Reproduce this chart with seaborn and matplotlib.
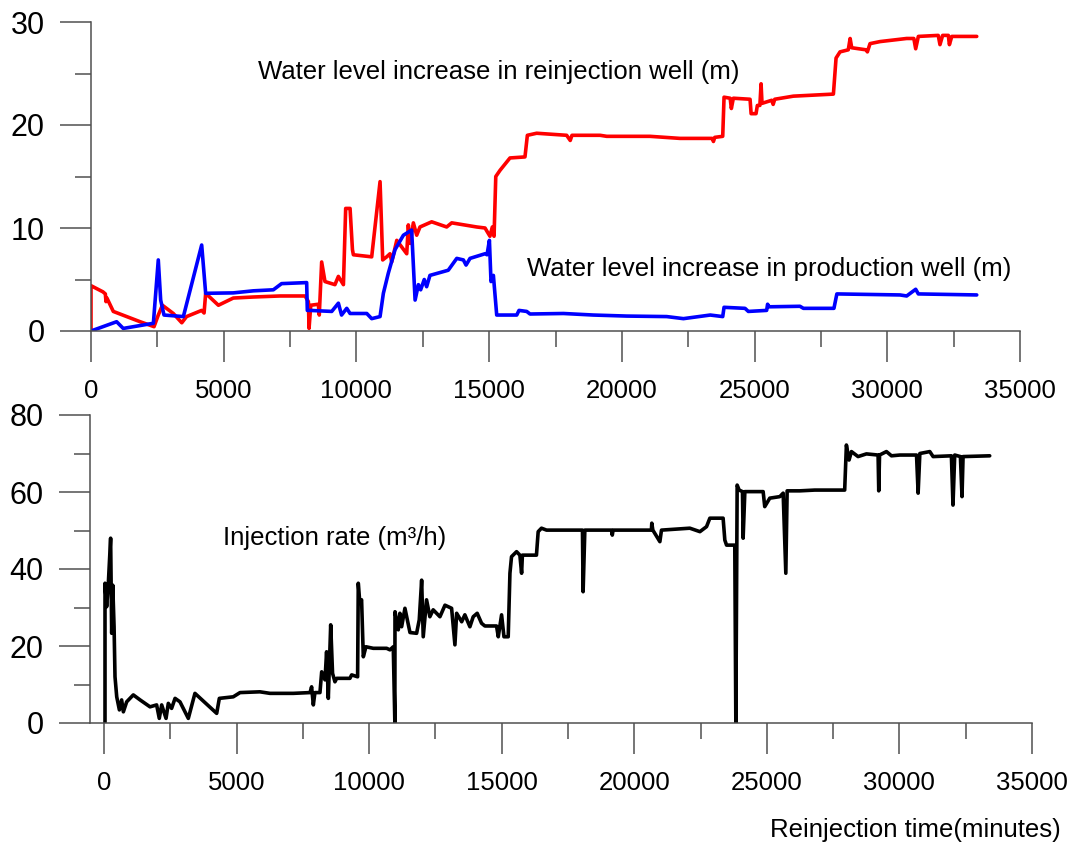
import matplotlib
matplotlib.use("Agg")
import matplotlib.pyplot as plt
from matplotlib.ticker import MultipleLocator
import seaborn as sns
import pandas as pd

# ---------------- data ----------------
reinj_x = [0, 0, 450, 540, 565, 600, 840, 1850, 2375, 2535, 2690, 3100, 3420, 3600, 4170, 4260,
           4320, 4800, 5360, 6115, 7120, 8065, 8190, 8215, 8280, 8565, 8600, 8690, 8815, 9190,
           9320, 9510, 9595, 9760, 9850, 9885, 10575, 10890, 10990, 11140, 11265, 11330, 11520,
           11895, 11955, 12020, 12145, 12270, 12395, 12835, 13400, 13590, 14530, 14845, 15030,
           15120, 15185, 15250, 15410, 15660, 15785, 16350, 16440, 16790, 17920, 18055, 18120,
           19180, 19430, 21060, 22190, 23400, 23450, 23500, 23800, 23850, 24080, 24125, 24200,
           24830, 24870, 25055, 25105, 25200, 25245, 25280, 25645, 25700, 25760, 26460, 27970,
           28070, 28220, 28530, 28600, 28660, 29200, 29250, 29350, 29730, 30730, 31000, 31070,
           31170, 31920, 31985, 32085, 32300, 32340, 32430, 33370]
reinj_y = [0, 4.4, 3.8, 3.6, 2.85, 3.2, 1.9, 0.9, 0.42, 1.55, 2.5, 1.7, 0.8, 1.4, 2.0, 1.75,
           3.66, 2.5, 3.2, 3.3, 3.4, 3.4, 2.85, 0.26, 2.5, 2.6, 1.55, 6.7, 4.8, 4.5,
           5.3, 4.5, 11.9, 11.9, 7.9, 7.4, 7.2, 14.5, 6.9, 7.2, 7.5, 6.7, 8.8,
           7.5, 10.3, 8.5, 10.5, 9.3, 10.1, 10.6, 10.1, 10.5, 10.1, 10.0, 9.2,
           10.1, 9.2, 15.0, 15.6, 16.4, 16.8, 16.9, 19.0, 19.2, 19.0, 18.5, 19.0,
           19.0, 18.9, 18.9, 18.7, 18.7, 18.4, 18.8, 18.9, 22.7, 22.6, 21.6, 22.6,
           22.5, 21.1, 21.1, 21.9, 21.9, 24.0, 22.1, 22.4, 22.0, 22.5, 22.8, 23.0,
           26.5, 27.1, 27.3, 28.4, 27.5, 27.3, 27.1, 27.9, 28.1, 28.4, 28.4, 27.4,
           28.6, 28.7, 27.8, 28.7, 28.7, 27.8, 28.6, 28.6]

prod_x = [0, 965, 1215, 2350, 2535, 2625, 2750, 3480, 4170, 4320, 5360, 6115, 6870, 7180, 8125,
          8150, 8250, 9070, 9320, 9440, 9635, 9760, 10390, 10575, 10890, 11015, 11200, 11455,
          11770, 12080, 12210, 12335, 12420, 12555, 12645, 12770, 13460, 13780, 14030, 14130,
          14280, 14845, 14920, 15010, 15070, 15160, 15285, 16040, 16125, 16415, 16540, 17800,
          18925, 20180, 21690, 22320, 23330, 23800, 23850, 24640, 24765, 25455, 25490, 25550,
          26710, 26840, 27990, 28100, 30480, 30730, 31070, 31170, 33370]
prod_y = [0, 0.9, 0.25, 0.75, 6.9, 3.0, 1.55, 1.4, 8.35, 3.66, 3.7, 3.9, 4.0, 4.6, 4.7,
          2.0, 2.0, 1.9, 2.7, 1.55, 2.2, 1.7, 1.7, 1.2, 1.4, 3.66, 5.6, 7.9,
          9.3, 9.8, 3.0, 4.5, 4.0, 5.0, 4.3, 5.4, 5.9, 7.05, 6.9, 6.4,
          7.05, 7.5, 7.4, 8.8, 4.8, 5.4, 1.55, 1.55, 2.0, 1.9, 1.65, 1.7,
          1.55, 1.45, 1.4, 1.2, 1.55, 1.4, 2.3, 2.2, 1.9, 2.0, 2.6, 2.35,
          2.4, 2.2, 2.2, 3.6, 3.5, 3.4, 4.05, 3.6, 3.5]

rate_x = [38, 38, 100, 160, 250, 290, 330, 380, 415, 480, 580, 665, 730, 855, 1105, 1360, 1735,
          1985, 2085, 2175, 2340, 2425, 2550, 2680, 2865, 3180, 3430, 4250, 4350, 4875, 5130,
          5880, 6260, 7140, 7770, 7830, 7895, 7955, 8145, 8210, 8335, 8395, 8460, 8550, 8620,
          8710, 8775, 9275, 9340, 9565, 9590, 9650, 9715, 9780, 9880, 10155, 10660, 10785,
          10910, 10970, 10975, 11100, 11160, 11225, 11350, 11540, 11790, 11890, 11980, 12040,
          12165, 12290, 12415, 12670, 12860, 13110, 13235, 13300, 13490, 13610, 13800, 13925,
          14075, 14240, 14365, 14805, 14870, 14995, 15085, 15245, 15310, 15370, 15560, 15685,
          15750, 15780, 16310, 16375, 16500, 16690, 18045, 18070, 18135, 19140, 19170, 19200,
          20645, 20660, 20700, 20965, 21025, 22095, 22475, 22725, 22850, 23350, 23415, 23480,
          23790, 23830, 23880, 23955, 24080, 24105, 24170, 24860, 24920, 25110, 25490, 25615,
          25715, 25765, 26240, 26805, 27935, 28000, 28100, 28190, 28440, 28755, 29195, 29220,
          29250, 29510, 29700, 30015, 30645, 30705, 30770, 31145, 31270, 31960, 32020, 32085,
          32300, 32360, 32400, 33405]
rate_y = [0, 36.3, 30.2, 35.8, 48, 23.3, 35.8, 25, 12, 6.8, 3.4, 6.0, 2.9, 5.5, 7.3, 6.0, 4.2,
          4.7, 1.2, 4.7, 1.2, 5.1, 3.8, 6.4, 5.5, 1.2, 7.7, 2.5, 6.4, 6.8, 7.9,
          8.1, 7.7, 7.7, 7.9, 9.4, 4.7, 7.9, 7.9, 13.3, 11.2, 18.5, 6.4, 25.5, 12.9,
          10.7, 11.6, 11.6, 12.5, 12.0, 36.3, 31.1, 32, 17.2, 19.8, 19.4, 19.4, 19.0,
          19.8, 0, 28.9, 24.2, 28.5, 25, 29.8, 23.5, 23.3, 26.8, 37.1, 22.4,
          32, 27.6, 29.4, 27.6, 30.6, 29.8, 20.3, 28.5, 26.3, 28.1, 25, 27.6,
          28.5, 25.9, 25.2, 25.2, 22.4, 28.1, 22.4, 22.4, 38.9, 43.2, 44.5, 43.6,
          38.9, 43.6, 43.6, 49.7, 50.6, 50.1, 50.1, 34.1, 50.1, 50.1, 48.8, 50.1,
          50.1, 51.9, 50.1, 47.1, 50.1, 50.6, 49.7, 51.0, 53.2, 53.2, 47.5, 46.2,
          46.2, 0, 61.8, 60.5, 60.1, 48, 60.1, 60.1, 56.2, 58.4, 58.8, 59.7,
          38.9, 60.3, 60.3, 60.5, 60.5, 72.2, 68.3, 70.5, 69.2, 69.9, 69.6, 60.3,
          69.6, 70.5, 69.4, 69.6, 69.6, 59.7, 70.0, 70.5, 69.2, 69.4, 56.6, 69.6,
          69.2, 58.8, 69.2, 69.4]

top_xticks = [0, 5000, 10000, 15000, 20000, 25000, 30000, 35000]
top_yticks = [0, 10, 20, 30]
bot_yticks = [0, 20, 40, 60, 80]

label_reinj = "Water level increase in reinjection well (m)"
label_prod = "Water level increase in production well (m)"
label_rate = "Injection rate (m\u00b3/h)"
label_x = "Reinjection time(minutes)"

# ---------------- style ----------------
sns.set_style("ticks")
plt.rcParams["font.family"] = ["Liberation Sans", "DejaVu Sans"]

W, H = 1069, 848
fig = plt.figure(figsize=(W / 100, H / 100), dpi=100)

ax1 = fig.add_axes([91 / W, 1 - 331 / H, (1020 - 91) / W, (331 - 22) / H])
ax2 = fig.add_axes([90 / W, 1 - 723 / H, (1032 - 90) / W, (723 - 415) / H])

df_r = pd.DataFrame({"t": reinj_x, "v": reinj_y})
df_p = pd.DataFrame({"t": prod_x, "v": prod_y})
df_q = pd.DataFrame({"t": rate_x, "v": rate_y})

lw = 2.6
kw = dict(x="t", y="v", lw=lw, sort=False, estimator=None, solid_joinstyle="round")
sns.lineplot(data=df_r, ax=ax1, color="#ff0000", **kw)
sns.lineplot(data=df_p, ax=ax1, color="#0000ff", **kw)
sns.lineplot(data=df_q, ax=ax2, color="#000000", **kw)

ax1.set_xlim(0, 35000)
ax1.set_ylim(0, 30)
ax2.set_xlim(-528, 35000)
ax2.set_ylim(0, 80)

spine_c = "#505050"
for ax, yt in ((ax1, top_yticks), (ax2, bot_yticks)):
    ax.set_xlabel("")
    ax.set_ylabel("")
    ax.set_xticks(top_xticks)
    ax.set_yticks(yt)
    ax.xaxis.set_minor_locator(MultipleLocator(2500))
    ax.yaxis.set_minor_locator(MultipleLocator(yt[1] / 2))
    for s in ("top", "right"):
        ax.spines[s].set_visible(False)
    for s in ("left", "bottom"):
        ax.spines[s].set_color(spine_c)
        ax.spines[s].set_linewidth(1.1)
    ax.tick_params(axis="both", which="major", length=22.5, width=1.1, color=spine_c,
                   direction="out", labelcolor="black")
    ax.tick_params(axis="both", which="minor", length=11.2, width=1.1, color=spine_c, direction="out")
    ax.tick_params(axis="x", which="major", labelsize=18.5, pad=12)
    ax.tick_params(axis="y", which="major", labelsize=22, pad=11)
    ax.set_facecolor("white")
    ax.grid(False)

ax1.text(6290, 25.1, label_reinj, fontsize=18.5, ha="left", va="center", color="black")
ax1.text(16430, 6.0, label_prod, fontsize=18.5, ha="left", va="center", color="black")
ax2.text(4490, 48, label_rate, fontsize=18.5, ha="left", va="center", color="black")
fig.text(915 / W, 1 - 830 / H, label_x, fontsize=18.5, ha="center", va="center", color="black")

fig.savefig("out.png", dpi=100, facecolor="white")
